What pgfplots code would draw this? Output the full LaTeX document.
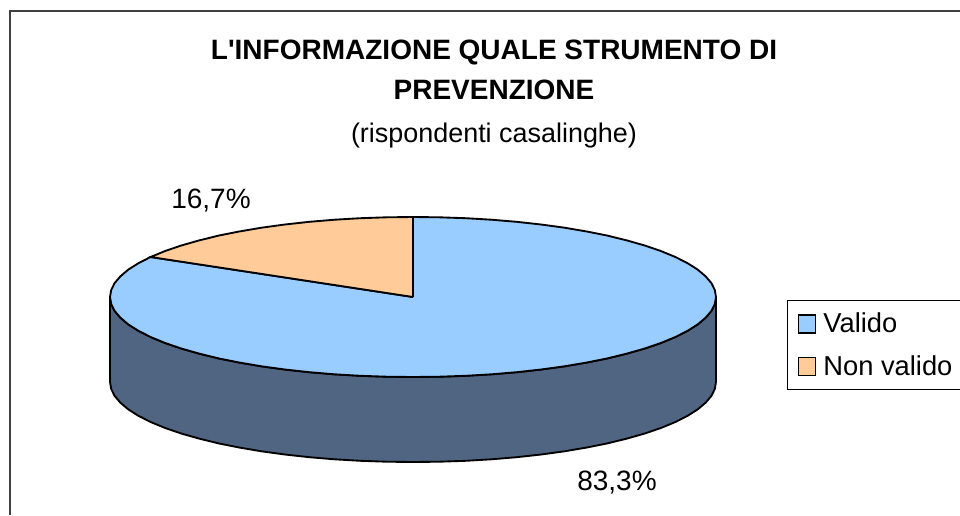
\documentclass[border=0pt]{standalone}
\usepackage{pgfplots}
\pgfplotsset{compat=1.18}
\usepackage{fontspec}
\setmainfont{Liberation Sans}
\newfontfamily\plainf{Liberation Sans}
\definecolor{pieblue}{HTML}{99CCFF}
\definecolor{pieorange}{HTML}{FFCC99}
\definecolor{pieside}{HTML}{4F6582}
\definecolor{framegray}{HTML}{404040}
\begin{document}
\begin{tikzpicture}
\begin{axis}[
  scale only axis, width=720pt, height=386.25pt,
  xmin=0, xmax=960, ymin=0, ymax=515, y dir=reverse,
  hide axis, clip=false,
  legend style={at={(axis cs:787,300)}, anchor=north west, draw=black, line width=0.9pt,
    font=\fontsize{20.5}{24}\selectfont, inner xsep=7.75pt, inner ysep=7.25pt, row sep=11.75pt,
    /tikz/every even column/.append style={column sep=7.5pt}},
  legend cell align=left,
  legend image code/.code={\draw[#1, draw=black, line width=1.1pt, fill] (0pt,-6.8pt) rectangle (12.5pt,6.8pt); \path[draw=none, fill=none] (0pt,0pt) -- (16.5pt,0pt);},
]
% frame
\addplot[forget plot, framegray, line width=1.7pt] coordinates {(10,515) (10,11) (960,11)};
% side wall
\addplot[forget plot, fill=pieside, draw=black, line width=1.4pt] coordinates {
(716,297) (714.8,304) (711.4,310.9) (705.6,317.7) (697.7,324.4) (687.6,330.8) (675.4,337) (661.1,342.9) (645.1,348.4) (627.2,353.5) (607.8,358.3) (586.8,362.5) (564.5,366.3) (541.1,369.5) (516.6,372.2) (491.4,374.3) (465.6,375.8) (439.4,376.7) (413,377) (386.6,376.7) (360.4,375.8) (334.6,374.3) (309.4,372.2) (284.9,369.5) (261.5,366.3) (239.2,362.5) (218.2,358.3) (198.8,353.5) (180.9,348.4) (164.9,342.9) (150.6,337) (138.4,330.8) (128.3,324.4) (120.4,317.7) (114.6,310.9) (111.2,304) (110,297)
(110,382) (111.2,389) (114.6,395.9) (120.4,402.7) (128.3,409.4) (138.4,415.8) (150.6,422) (164.9,427.9) (180.9,433.4) (198.8,438.5) (218.2,443.3) (239.2,447.5) (261.5,451.3) (284.9,454.5) (309.4,457.2) (334.6,459.3) (360.4,460.8) (386.6,461.7) (413,462) (439.4,461.7) (465.6,460.8) (491.4,459.3) (516.6,457.2) (541.1,454.5) (564.5,451.3) (586.8,447.5) (607.8,443.3) (627.2,438.5) (645.1,433.4) (661.1,427.9) (675.4,422) (687.6,415.8) (697.7,409.4) (705.6,402.7) (711.4,395.9) (714.8,389) (716,382) (716,297)};
% Valido, 83.3 %
\addplot[fill=pieblue, draw=black, line width=1.4pt] coordinates {
(413,297) (413,217) (439.4,217.3) (465.6,218.2) (491.4,219.7) (516.6,221.8) (541.1,224.5) (564.5,227.7) (586.8,231.5) (607.8,235.7) (627.2,240.5) (645.1,245.6) (661.1,251.1) (675.4,257) (687.6,263.2) (697.7,269.6) (705.6,276.3) (711.4,283.1) (714.8,290) (716,297) (714.8,304) (711.4,310.9) (705.6,317.7) (697.7,324.4) (687.6,330.8) (675.4,337) (661.1,342.9) (645.1,348.4) (627.2,353.5) (607.8,358.3) (586.8,362.5) (564.5,366.3) (541.1,369.5) (516.6,372.2) (491.4,374.3) (465.6,375.8) (439.4,376.7) (413,377) (386.6,376.7) (360.4,375.8) (334.6,374.3) (309.4,372.2) (284.9,369.5) (261.5,366.3) (239.2,362.5) (218.2,358.3) (198.8,353.5) (180.9,348.4) (164.9,342.9) (150.6,337) (138.4,330.8) (128.3,324.4) (120.4,317.7) (114.6,310.9) (111.2,304) (110,297) (111.2,290) (114.6,283.1) (120.4,276.3) (128.3,269.6) (138.4,263.2) (150.6,257) (413,297)};
\addlegendentry{Valido}
% Non valido, 16.7 %
\addplot[fill=pieorange, draw=black, line width=1.4pt] coordinates {
(413,297) (150.6,257) (164.9,251.1) (180.9,245.6) (198.8,240.5) (218.2,235.7) (239.2,231.5) (261.5,227.7) (284.9,224.5) (309.4,221.8) (334.6,219.7) (360.4,218.2) (386.6,217.3) (413,217) (413,297)};
\addlegendentry{Non valido}
\node[font=\bfseries\fontsize{21}{24}\selectfont] at (axis cs:494,52.5) {L{\plainf\bfseries'}INFORMAZIONE QUALE STRUMENTO DI};
\node[font=\bfseries\fontsize{21}{24}\selectfont] at (axis cs:494,90) {PREVENZIONE};
\node[font=\fontsize{20.2}{24}\selectfont] at (axis cs:494,136) {(rispondenti casalinghe)};
\node[font=\fontsize{21}{24}\selectfont] at (axis cs:211,201) {16,7\%};
\node[font=\fontsize{21}{24}\selectfont] at (axis cs:617,482.5) {83,3\%};
\end{axis}
\pgfresetboundingbox
\path[use as bounding box] (current axis.south west) rectangle (current axis.north east);
\end{tikzpicture}
\end{document}
